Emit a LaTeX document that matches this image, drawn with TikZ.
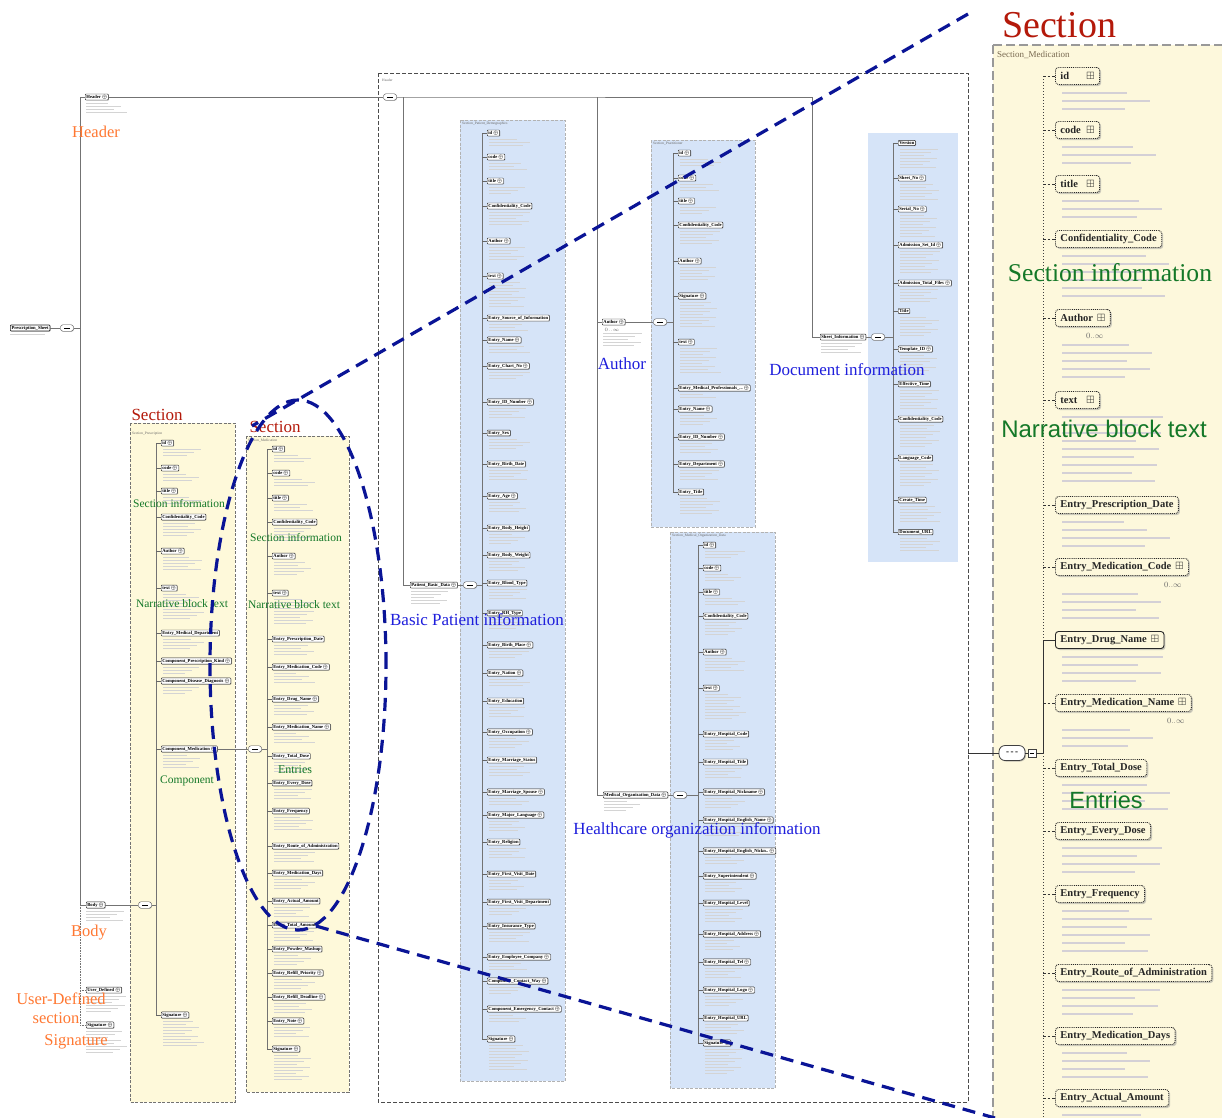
\documentclass[tikz,border=0pt]{standalone}
\usepackage{amssymb}
\usepackage{fontspec}
\setmainfont{Liberation Serif}
\newfontfamily\sansf{Liberation Sans}
\usetikzlibrary{shadows}
\definecolor{cream}{RGB}{254,249,218}
\definecolor{creamR}{RGB}{253,248,220}
\definecolor{lblue}{RGB}{214,228,248}
\definecolor{navy}{RGB}{10,20,150}
\definecolor{orng}{RGB}{255,120,50}
\definecolor{secred}{RGB}{180,25,10}
\definecolor{grn}{RGB}{20,120,40}
\definecolor{lbl}{RGB}{30,30,220}
\definecolor{descg}{RGB}{212,208,214}
\newcommand\op{\,{\fontsize{4}{4}\selectfont$\oplus$}}
\newcommand\pl{\hspace{4pt}$\boxplus$}
\newcommand\mk[1]{\makebox[22pt][l]{#1}}
\newcommand\seqd{\rule{6pt}{0.5pt}}
\newcommand\dbars[4]{\foreach \kk in {1,...,#3}{\pgfmathsetmacro\ww{22+mod(13*\kk+#4,20)}\fill[ovdesc] (#1,#2+3*\kk) rectangle ++(\ww,1.2);}}
\newcommand\ovpanel[3]{\foreach \yy/\tx/\nn [count=\ci] in {#3}{%
  \node[ovbox] (#1\ci) at (#2+5,\yy) {\tx};
  \coordinate (#1j\ci) at (#2,\yy);
  \draw[ovconn] (#1j\ci) -- (#1\ci.west);
  \dbars{#2+7}{\yy+3}{\nn}{\yy}}}
\tikzset{
  ovbox/.style={draw=black!85, line width=0.45pt, fill=white, rounded corners=0.8pt, anchor=west, inner xsep=1.2pt, inner ysep=0.9pt, font=\fontsize{4.6}{5}\selectfont\bfseries, drop shadow={shadow xshift=0.6pt, shadow yshift=-0.6pt, fill=black!45}},
  ovconn/.style={draw=black!60, line width=0.35pt},
  ovspine/.style={draw=black!55, line width=0.35pt},
  ovline/.style={draw=black!55, line width=0.6pt},
  ovdesc/.style={fill=black!17},
  seqo/.style={draw=black!70, line width=0.4pt, fill=white, rounded corners=2.5pt, minimum width=13pt, minimum height=6.5pt, inner sep=0pt, drop shadow={shadow xshift=0.5pt, shadow yshift=-0.5pt}},
  ptitle/.style={anchor=west, inner sep=0pt, font=\fontsize{3.6}{4}\selectfont, text=black!60},
  creampanel/.style={fill=cream, draw=black!55, line width=0.8pt, dash pattern=on 3pt off 1.5pt},
  bluepanel/.style={fill=lblue, draw=black!30, line width=0.6pt, dash pattern=on 3pt off 1.5pt},
  rbox/.style={draw=black!85, line width=0.9pt, densely dotted, fill=creamR, rounded corners=3pt, anchor=west, inner xsep=5pt, inner ysep=0pt, minimum height=17pt, font=\fontsize{10.5}{12}\selectfont\bfseries, text=black!85, drop shadow={shadow xshift=1.5pt, shadow yshift=-1.5pt, fill=black!40}},
  rconn/.style={draw=black!80, line width=0.9pt, dash pattern=on 2.5pt off 2pt},
  rconnreq/.style={draw=black!80, line width=0.9pt},
  rspine/.style={draw=black!75, line width=1pt, dotted},
  rdesc/.style={fill=descg},
  mult/.style={inner sep=0pt, font=\fontsize{8}{8}\selectfont, text=black!60},
  rseq/.style={draw=black!75, line width=0.8pt, fill=white, rounded corners=6pt, minimum width=26pt, minimum height=15pt, inner sep=0pt, font=\fontsize{9}{9}\selectfont\bfseries, drop shadow={shadow xshift=1pt, shadow yshift=-1pt}},
  rmini/.style={draw=black!75, line width=0.7pt, fill=white, minimum size=8pt, inner sep=0pt},
  zoomline/.style={draw=navy, line width=3.2pt, dash pattern=on 13pt off 8pt},
  lab/.style={inner sep=0pt},
  orlab/.style={lab, text=orng, font=\fontsize{16.5}{18}\selectfont},
  redlab/.style={lab, text=secred, font=\fontsize{17}{18}\selectfont},
  grnlab/.style={lab, text=grn, font=\fontsize{11.5}{12}\selectfont},
  bluelab/.style={lab, text=lbl, font=\fontsize{17}{18}\selectfont},
}
\begin{document}
\begin{tikzpicture}[x=1pt,y=-1pt]
\fill[white] (0,0) rectangle (1222,1117);
\useasboundingbox (0,0) rectangle (1222,1117);
\clip (0,0) rectangle (1222,1117);

% ---------- panels ----------
\path[creampanel] (130,423) rectangle (235,1102);
\path[creampanel] (246,436) rectangle (349,1092);
\path[bluepanel] (460,120) rectangle (565,1081);
\path[bluepanel] (651,140) rectangle (755,527);
\fill[lblue] (868,133) rectangle (958,562);
\path[bluepanel] (670,532) rectangle (775,1088);
\fill[creamR] (993,45) rectangle (1235,1130);
\draw[black!40, line width=1.6pt, dash pattern=on 9pt off 4pt] (993,45) -- (1235,45);
\draw[black!40, line width=1.6pt, dash pattern=on 9pt off 4pt] (993,45) -- (993,1130);
\draw[black!70, line width=0.9pt, dash pattern=on 4pt off 2pt] (378,73) rectangle (968,1102);

\node[ptitle] (tpd) at (462,124) {Section\_Patient\_Demographics};
\node[ptitle] (tpr) at (653,144) {Section\_Practitioner};
\node[ptitle] (tmo) at (672,536) {Section\_Medical\_Organization\_Data};
\node[ptitle] (tsp) at (132,434) {Section\_Prescription};
\node[ptitle] (tsm) at (248,440) {Section\_Medication};
\node[ptitle] (thd) at (382,80) {Header};
\node[anchor=west, inner sep=0pt, font=\fontsize{9}{10}\selectfont, text={rgb,255:red,120;green,105;blue,80}] (trm) at (997,55) {Section\_Medication};

% ---------- spines ----------
\draw[ovline] (80,97) -- (80,905);
\draw[ovline, densely dotted] (80,905) -- (80,1025);
\draw[ovspine] (482,133) -- (482,1039);
\draw[ovspine] (673,153) -- (673,492);
\draw[ovspine] (893,143) -- (893,532);
\draw[ovspine] (698,545) -- (698,1043);
\draw[ovspine] (156,443) -- (156,1015);
\draw[ovspine] (267,449) -- (267,1049);

% ---------- overview panels ----------
\ovpanel{pd}{482}{133/{id\op}/3, 157/{code\op}/3, 181/{title\op}/3, 206/{Confidentiality\_Code}/5, 241/{Author\op}/5, 276/{text\op}/9, 318/{Entry\_Source\_of\_Information}/3, 340/{Entry\_Name\op}/3, 366/{Entry\_Chart\_No\op}/3, 402/{Entry\_ID\_Number\op}/4, 433/{Entry\_Sex}/4, 464/{Entry\_Birth\_Date}/4, 496/{Entry\_Age\op}/4, 528/{Entry\_Body\_Height}/4, 555/{Entry\_Body\_Weight}/4, 583/{Entry\_Blood\_Type}/4, 613/{Entry\_RH\_Type}/4, 645/{Entry\_Birth\_Place\op}/3, 673/{Entry\_Nation\op}/3, 701/{Entry\_Education}/4, 732/{Entry\_Occupation\op}/4, 760/{Entry\_Marriage\_Status}/4, 792/{Entry\_Marriage\_Spouse\op}/3, 815/{Entry\_Major\_Language\op}/4, 842/{Entry\_Religion}/4, 874/{Entry\_First\_Visit\_Date}/4, 902/{Entry\_First\_Visit\_Department}/3, 926/{Entry\_Insurance\_Type}/4, 957/{Entry\_Employee\_Company\op}/3, 981/{Component\_Contact\_Way\op}/3, 1009/{Component\_Emergency\_Contact\op}/3, 1039/{Signature\op}/9}

\ovpanel{pr}{673}{153/{id\op}/3, 178/{code\op}/3, 201/{title\op}/3, 225/{Confidentiality\_Code}/5, 261/{Author\op}/5, 296/{Signature\op}/9, 342/{text\op}/9, 388/{Entry\_Medical\_Professionals\_...\op}/2, 409/{Entry\_Name\op}/4, 437/{Entry\_ID\_Number\op}/4, 464/{Entry\_Department\op}/4, 492/{Entry\_Title}/6}

\ovpanel{dc}{893}{143/{Version}/7, 178/{Sheet\_No\op}/6, 209/{Serial\_No\op}/8, 245/{Admission\_Set\_Id\op}/8, 283/{Admission\_Total\_Files\op}/5, 311/{Title}/7, 349/{Template\_ID\op}/7, 384/{Effective\_Time}/7, 419/{Confidentiality\_Code}/8, 458/{Language\_Code}/8, 500/{Create\_Time}/6, 532/{Document\_URL}/5}

\ovpanel{mo}{698}{545/{id\op}/3, 568/{code\op}/3, 592/{title\op}/3, 616/{Confidentiality\_Code}/5, 652/{Author\op}/5, 688/{text\op}/9, 734/{Entry\_Hospital\_Code}/4, 762/{Entry\_Hospital\_Title}/4, 792/{Entry\_Hospital\_Nickname\op}/4, 820/{Entry\_Hospital\_English\_Name\op}/4, 851/{Entry\_Hospital\_English\_Nickn..\op}/3, 876/{Entry\_Superintendent\op}/4, 903/{Entry\_Hospital\_Level}/5, 934/{Entry\_Hospital\_Address\op}/4, 962/{Entry\_Hospital\_Tel\op}/4, 990/{Entry\_Hospital\_Logo\op}/4, 1018/{Entry\_Hospital\_URL}/4, 1043/{Signature\op}/9}

\ovpanel{sp}{156}{443/{id\op}/3, 468/{code\op}/3, 491/{title\op}/3, 517/{Confidentiality\_Code}/5, 551/{Author\op}/5, 588/{text\op}/9, 633/{Entry\_Medical\_Department}/4, 661/{Component\_Prescription\_Kind\op}/3, 681/{Component\_Disease\_Diagnosis\op}/3, 749/{Component\_Medication\op}/5, 1015/{Signature\op}/9}

\ovpanel{sm}{267}{449/{id\op}/3, 473/{code\op}/3, 498/{title\op}/3, 522/{Confidentiality\_Code}/5, 556/{Author\op}/5, 593/{text\op}/9, 639/{Entry\_Prescription\_Date}/4, 667/{Entry\_Medication\_Code\op}/4, 699/{Entry\_Drug\_Name\op}/4, 727/{Entry\_Medication\_Name\op}/4, 756/{Entry\_Total\_Dose}/4, 783/{Entry\_Every\_Dose}/4, 811/{Entry\_Frequency}/5, 846/{Entry\_Route\_of\_Administration}/4, 873/{Entry\_Medication\_Days}/4, 901/{Entry\_Actual\_Amount}/4, 925/{Entry\_Total\_Amount}/4, 949/{Entry\_Powder\_Mashup}/4, 973/{Entry\_Refill\_Priority\op}/4, 997/{Entry\_Refill\_Deadline\op}/4, 1021/{Entry\_Note\op}/4, 1049/{Signature\op}/9}

% ---------- root level ----------
\node[ovbox, line width=0.7pt] (ps) at (10,328) {Prescription\_Sheet};
\dbars{10}{331}{1}{0}
\node[seqo] (s0) at (67,328) {\seqd};
\node[ovbox] (hd) at (85,97) {Header\op};
\dbars{86}{100}{4}{7}
\node[ovbox] (bd) at (86,905) {Body\op};
\dbars{86}{908}{4}{3}
\node[ovbox] (ud) at (86,990) {User\_Defined\op};
\dbars{86}{993}{6}{5}
\node[ovbox] (sg) at (86,1025) {Signature\op};
\dbars{86}{1028}{8}{1}
\node[seqo] (s1) at (390,97) {\seqd};
\node[seqo] (s2) at (145,905) {\seqd};
\node[ovbox] (pbd) at (410,585) {Patient\_Basic\_Data\op};
\dbars{411}{588}{5}{2}
\node[seqo] (s3) at (470,585) {\seqd};
\node[ovbox] (au) at (602,322) {Author\op};
\node[inner sep=0pt, font=\fontsize{3.5}{4}\selectfont, text=black!60] (aum) at (612,330) {$0..\infty$};
\dbars{603}{330}{5}{4}
\node[seqo] (s4) at (660,322) {\seqd};
\node[ovbox] (si) at (820,337) {Sheet\_Information\op};
\dbars{821}{340}{4}{6}
\node[seqo] (s5) at (878,337) {\seqd};
\node[ovbox] (mod) at (603,795) {Medical\_Organization\_Data\op};
\dbars{604}{798}{4}{8}
\node[seqo] (s6) at (680,795) {\seqd};
\node[seqo] (s7) at (255,749) {\seqd};

\coordinate (j0) at (80,328);
\coordinate (jh) at (80,97);
\coordinate (jb) at (80,905);
\coordinate (ju) at (80,990);
\coordinate (js) at (80,1025);
\coordinate (jA) at (403,97);
\coordinate (jB) at (597,97);
\coordinate (jC) at (812,97);
\coordinate (jpd) at (482,585);
\coordinate (jpr) at (673,322);
\coordinate (jdc) at (893,337);
\coordinate (jmo) at (698,795);
\coordinate (jsp) at (156,905);
\coordinate (jsm) at (267,749);

\draw[ovline] (ps) -- (s0);
\draw[ovline] (s0) -- (j0);
\draw[ovline] (jh) -- (hd);
\draw[ovline] (jb) -- (bd);
\draw[ovline, densely dotted] (ju) -- (ud);
\draw[ovline, densely dotted] (js) -- (sg);
\draw[ovline] (hd) -- (s1);
\draw[ovline] (s1) -- (jA) -- (jC);
\draw[ovline] (jC) |- (si);
\draw[ovline] (jA) |- (pbd);
\draw[ovline] (jB) |- (mod);
\draw[ovline] (jB) |- (au);
\draw[ovline] (pbd) -- (s3);
\draw[ovline] (s3) -- (jpd);
\draw[ovline] (au) -- (s4);
\draw[ovline] (s4) -- (jpr);
\draw[ovline] (si) -- (s5);
\draw[ovline] (s5) -- (jdc);
\draw[ovline] (mod) -- (s6);
\draw[ovline] (s6) -- (jmo);
\draw[ovline] (bd) -- (s2);
\draw[ovline] (s2) -- (jsp);
\draw[ovline] (sp10) -- (s7);
\draw[ovline] (s7) -- (jsm);

% ---------- right zoomed panel ----------
\coordinate (rs0) at (1043,76);
\coordinate (rs1) at (1043,640);
\coordinate (rs2) at (1043,753);
\coordinate (rs3) at (1043,1125);
\draw[rspine] (rs0) -- (rs1);
\draw[rconnreq] (rs1) -- (rs2);
\draw[rspine] (rs2) -- (rs3);

\foreach \yy/\tx/\nn/\rq/\mm [count=\ci] in {
76/{\mk{id}\pl}/3/0/0,
130/{\mk{code}\pl}/3/0/0,
184/{\mk{title}\pl}/3/0/0,
239/{Confidentiality\_Code}/6/0/0,
318/{Author\pl}/5/0/1,
400/{\mk{text}\pl}/9/0/0,
505/{Entry\_Prescription\_Date}/4/0/0,
567/{Entry\_Medication\_Code\pl}/4/0/1,
640/{Entry\_Drug\_Name\pl}/4/1/0,
703/{Entry\_Medication\_Name\pl}/3/0/1,
768/{Entry\_Total\_Dose}/4/0/0,
831/{Entry\_Every\_Dose}/4/0/0,
894/{Entry\_Frequency}/6/0/0,
973/{Entry\_Route\_of\_Administration}/4/0/0,
1036/{Entry\_Medication\_Days}/4/0/0,
1098/{Entry\_Actual\_Amount}/1/0/0}{%
  \coordinate (rj\ci) at (1043,\yy);
  \ifnum\rq=1
    \node[rbox, solid] (r\ci) at (1055,\yy) {\tx};
    \draw[rconnreq] (rj\ci) -- (r\ci.west);
  \else
    \node[rbox] (r\ci) at (1055,\yy) {\tx};
    \draw[rconn] (rj\ci) -- (r\ci.west);
  \fi
  \ifnum\mm=1
    \node[mult] (rm\ci) at ([xshift=-16pt,yshift=-9pt]r\ci.south east) {$0..\infty$};
    \def\stt{27}%
  \else
    \def\stt{17}%
  \fi
  \foreach \kk in {1,...,\nn}{%
    \pgfmathsetmacro\ww{62+mod(23*\kk+\yy,48)}%
    \fill[rdesc] (1062,\yy+\stt+8*\kk-9) rectangle ++(\ww,2.4);}
}

\coordinate (zin) at (968,753);
\node[rseq] (s8) at (1012,753) {-\,-\,-};
\node[rmini] (s8m) at (1032,753) {\rule{4.5pt}{0.6pt}};
\draw[rconnreq] (zin) -- (s8);
\draw[rconnreq] (s8) -- (s8m);
\draw[rconnreq] (s8m) -- (rs2);

% ---------- annotation labels ----------
\node[orlab] (lhd) at (96,132) {Header};
\node[orlab] (lbd) at (89,933) {Body};
\node[orlab] (lud) at (61,999) {User-Defined};
\node[orlab] (lus) at (56,1018) {section};
\node[orlab] (lsg) at (76,1042) {Signature};

\node[redlab] (lsec1) at (157,415) {Section};
\node[redlab] (lsec2) at (275,427) {Section};
\node[lab, text=secred, font=\fontsize{38}{40}\selectfont] (lsec3) at (1059,25) {Section};

\node[grnlab] (lsi1) at (179,503) {Section information};
\node[grnlab] (lsi2) at (296,537) {Section information};
\node[grnlab] (lnb1) at (182,604) {Narrative block text};
\node[grnlab] (lnb2) at (294,605) {Narrative block text};
\node[grnlab] (lcmp) at (187,781) {Component};
\node[grnlab, font=\fontsize{12}{13}\selectfont] (lent) at (295,770) {Entries};

\node[lab, text=grn, font=\fontsize{25.6}{28}\selectfont] (rsi) at (1110,273) {Section information};
\node[lab, text=grn, font=\sansf\fontsize{24}{26}\selectfont] (rnb) at (1104,429) {Narrative block text};
\node[lab, text=grn, font=\sansf\fontsize{23.5}{26}\selectfont] (rent) at (1106,800) {Entries};

\node[bluelab] (lbp) at (477,620) {Basic Patient information};
\node[bluelab] (lau) at (622,364) {Author};
\node[bluelab] (ldi) at (847,370) {Document information};
\node[bluelab] (lho) at (697,830) {Healthcare organization information};

% ---------- zoom lines ----------
\coordinate (zt1) at (968,14);
\coordinate (zt2) at (252,426);
\coordinate (ec) at (298,665);
\coordinate (zb1) at (316,926);
\coordinate (zb2) at (995,1118);
\draw[zoomline] (zt1) -- (zt2);
\draw[zoomline] (ec) ellipse [x radius=88pt, y radius=265pt];
\draw[zoomline] (zb1) -- (zb2);
\end{tikzpicture}
\end{document}
